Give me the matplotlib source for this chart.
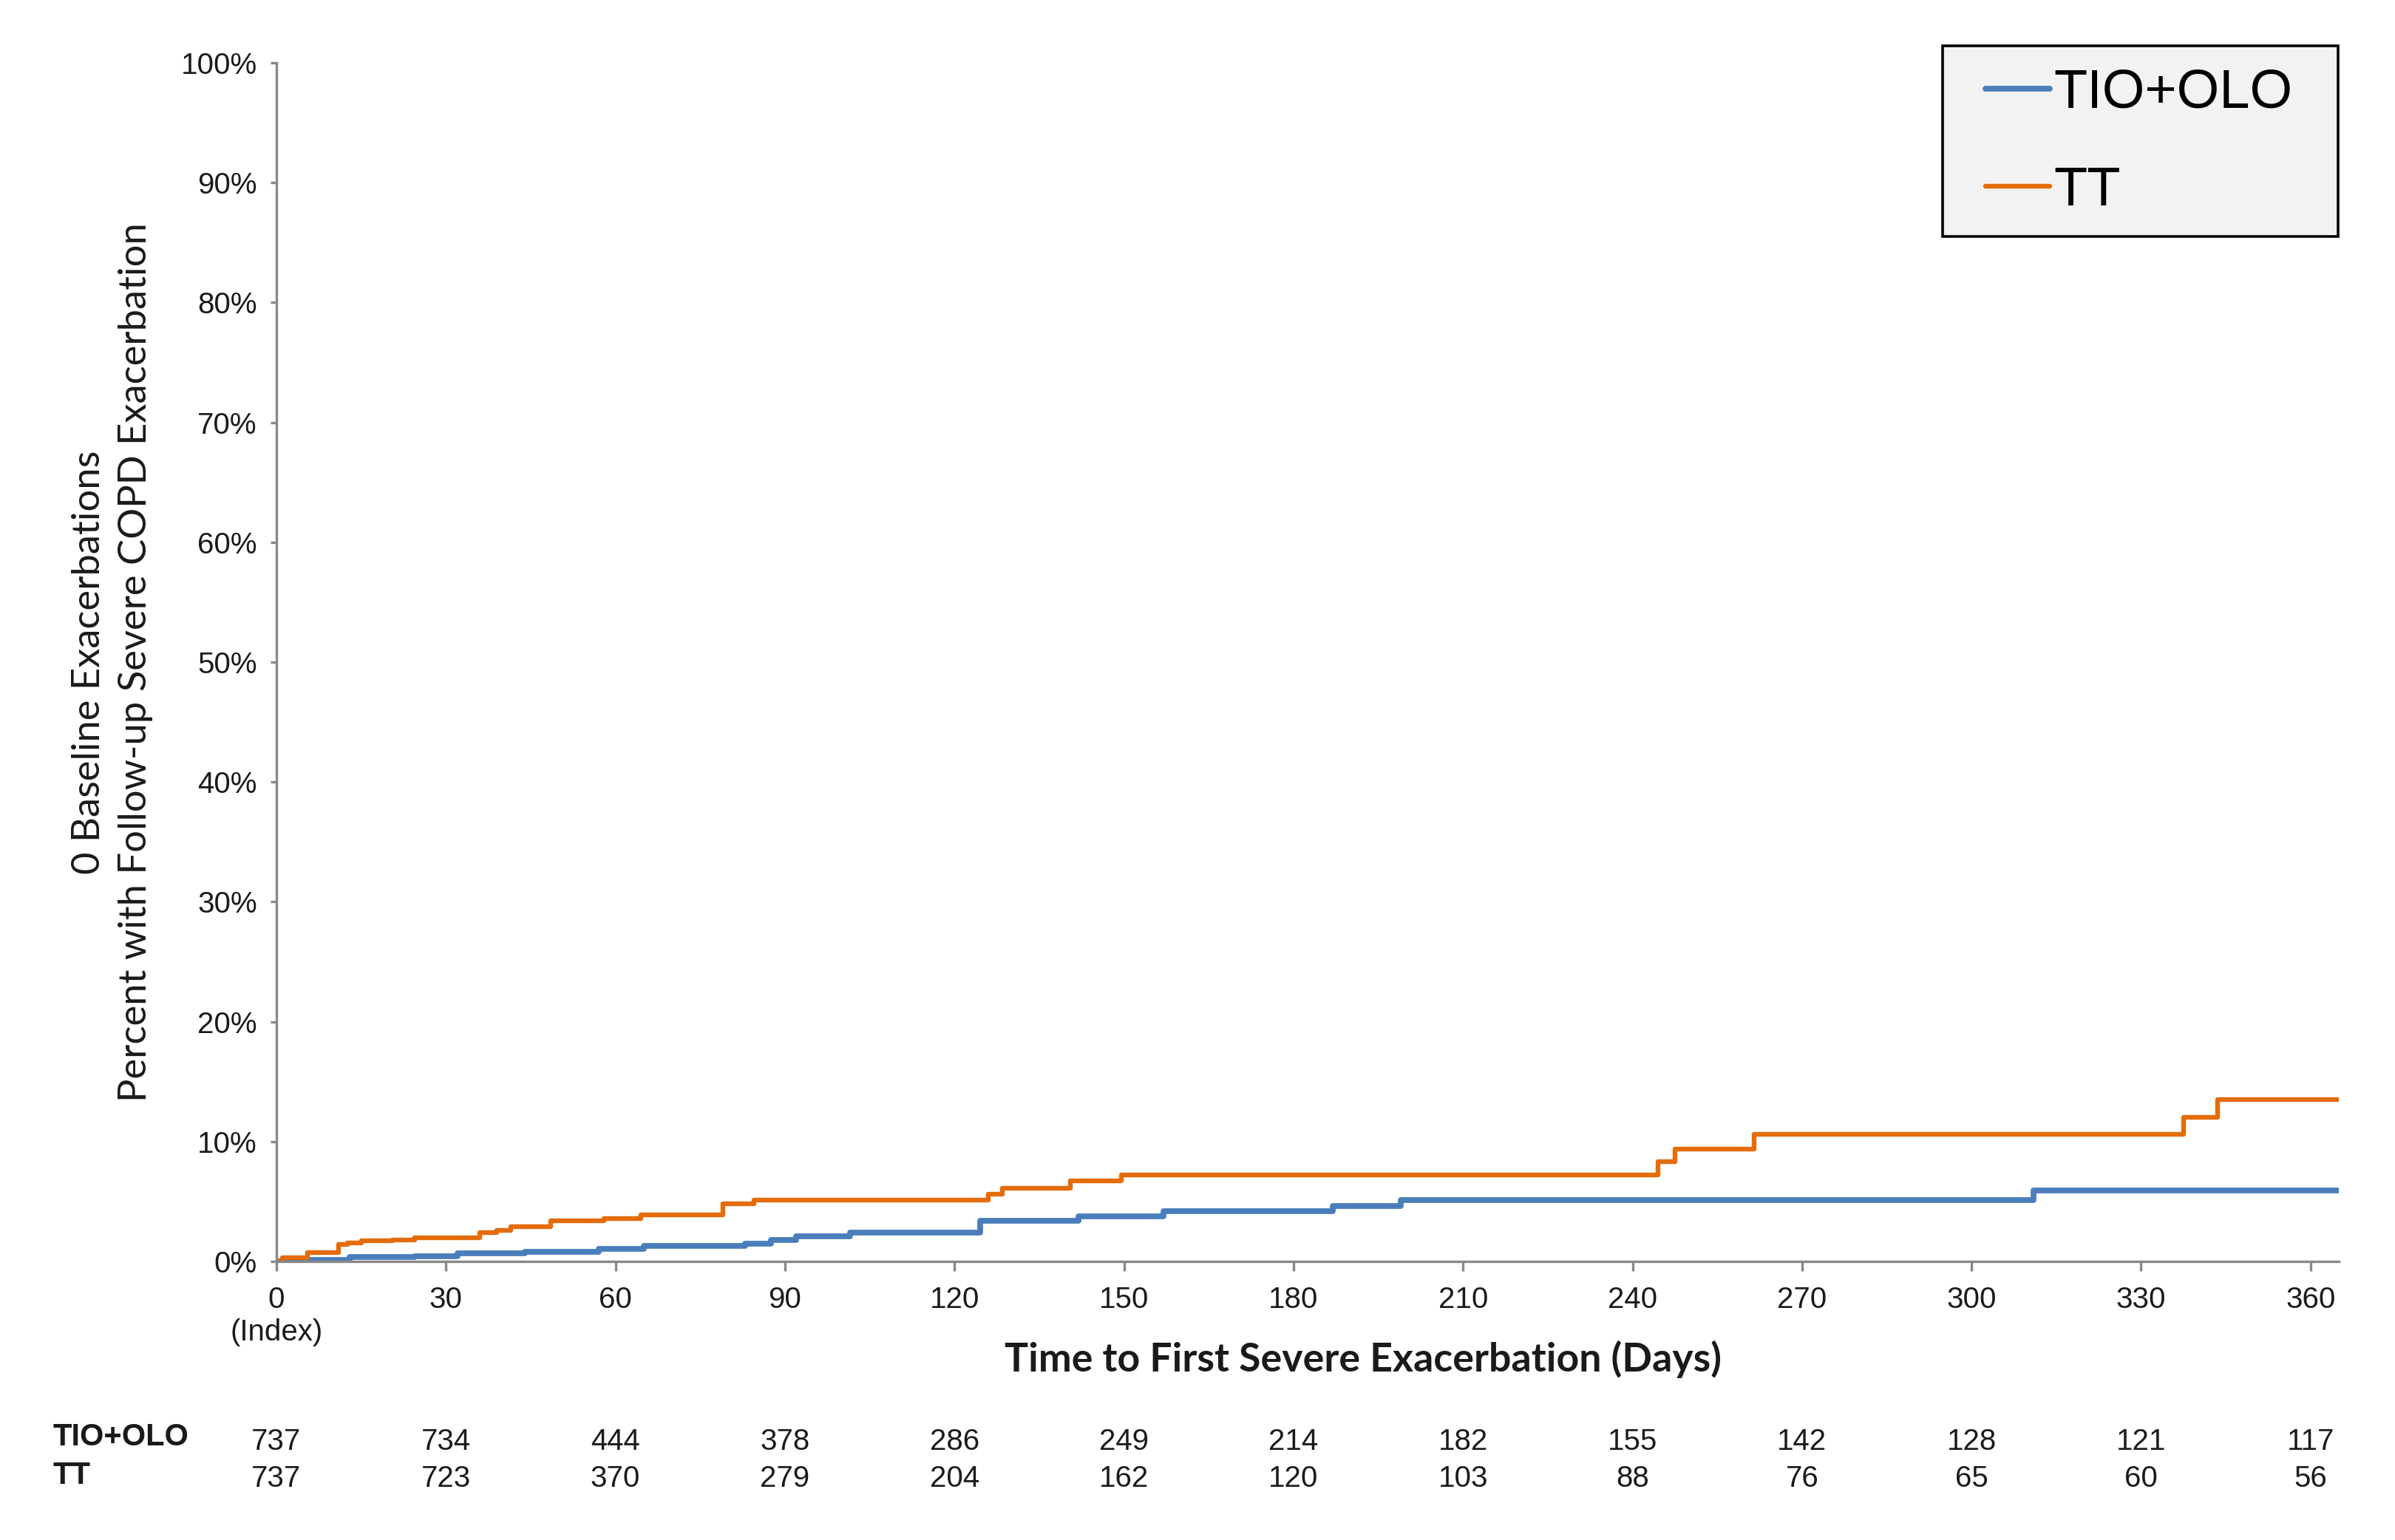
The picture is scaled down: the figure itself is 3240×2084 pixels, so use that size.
import matplotlib
matplotlib.use("Agg")
import matplotlib.pyplot as plt
from matplotlib.patches import Rectangle
from matplotlib.ticker import FuncFormatter

# Kaplan-Meier style cumulative incidence (percent)
tio_olo_days = [0, 5, 13, 24.5, 32, 44, 57, 65, 83, 87.5, 92, 101.5, 124.5, 142, 157, 187,
                199, 311, 365]
tio_olo_pct = [0, 0.1, 0.35, 0.45, 0.7, 0.8, 1.05, 1.3, 1.5, 1.8, 2.1, 2.4, 3.4, 3.75, 4.2,
               4.6, 5.1, 5.9, 5.9]

tt_days = [0, 1, 5.5, 11, 12.5, 15, 20.5, 24.5, 36, 39, 41.5, 48.5, 58, 64.5, 79, 84.5,
           126, 128.5, 140.5, 149.5, 244.5, 247.5, 261.5, 337.5, 343.5, 365]
tt_pct = [0, 0.3, 0.75, 1.4, 1.55, 1.7, 1.8, 1.95, 2.4, 2.6, 2.9, 3.4, 3.6, 3.9, 4.8, 5.1,
          5.6, 6.1, 6.7, 7.2, 8.3, 9.4, 10.6, 12.05, 13.5, 13.5]

# numbers at risk
risk_days = [0, 30, 60, 90, 120, 150, 180, 210, 240, 270, 300, 330, 360]
risk_tio_olo = [737, 734, 444, 378, 286, 249, 214, 182, 155, 142, 128, 121, 117]
risk_tt = [737, 723, 370, 279, 204, 162, 120, 103, 88, 76, 65, 60, 56]

x_ticks = risk_days
x_tick_labels = ["0\n(Index)"] + [str(d) for d in risk_days[1:]]
y_ticks = list(range(0, 101, 10))

BLUE = "#4a7ebb"
ORANGE = "#e46c0a"
GREY = "#888888"

W, H = 3240, 2084
fig = plt.figure(figsize=(W / 200, H / 200), dpi=200)
ax = fig.add_axes([374 / W, 1 - 1707 / H, 2790 / W, 1622 / H])

ax.step(tio_olo_days, tio_olo_pct, where="post", color=BLUE, lw=2.8, label="TIO+OLO",
        solid_capstyle="round")
ax.step(tt_days, tt_pct, where="post", color=ORANGE, lw=2.3, label="TT",
        solid_capstyle="round")

ax.set_xlim(0, 365)
ax.set_ylim(0, 100)
for s in ["top", "right"]:
    ax.spines[s].set_visible(False)
for s in ["left", "bottom"]:
    ax.spines[s].set_color(GREY)
    ax.spines[s].set_linewidth(1.2)

ax.set_yticks(y_ticks)
ax.yaxis.set_major_formatter(FuncFormatter(lambda v, p: f"{v:.0f}%"))
ax.set_xticks(x_ticks)
ax.set_xticklabels(x_tick_labels)
for lab in ax.get_xticklabels() + ax.get_yticklabels():
    lab.set_fontfamily("Liberation Sans")
    lab.set_fontsize(14.5)
    lab.set_color("#1a1a1a")
ax.tick_params(axis="y", length=3, width=1.2, color=GREY, pad=6.5)
ax.tick_params(axis="x", length=4.6, width=1.2, color=GREY, pad=7.2)

ax.set_xlabel("Time to First Severe Exacerbation (Days)", fontfamily="Lato",
              fontweight="bold", fontsize=19.3, color="#1a1a1a")
ax.xaxis.set_label_coords(0.527, -0.0814)
ax.xaxis.label.set_va("center")

ax.set_ylabel("0 Baseline Exacerbations\nPercent with Follow-up Severe COPD Exacerbation",
              fontfamily="Lato", fontsize=18.9, color="#1a1a1a", linespacing=1.4)
ax.yaxis.set_label_coords(-0.0796, 0.5)
ax.yaxis.label.set_va("center")

# numbers at risk table
tr = ax.get_xaxis_transform()
for d, a, b in zip(risk_days, risk_tio_olo, risk_tt):
    ax.text(d, -0.1505, str(a), transform=tr, ha="center", va="center",
            fontfamily="Liberation Sans", fontsize=14.5, color="#1a1a1a", clip_on=False)
    ax.text(d, -0.1815, str(b), transform=tr, ha="center", va="center",
            fontfamily="Liberation Sans", fontsize=14.5, color="#1a1a1a", clip_on=False)
fig.text(72 / W, 1 - 1945 / H, "TIO+OLO", ha="left", va="center",
         fontfamily="Liberation Sans", fontweight="bold", fontsize=15, color="#1a1a1a")
fig.text(72 / W, 1 - 1997 / H, "TT", ha="left", va="center",
         fontfamily="Liberation Sans", fontweight="bold", fontsize=15, color="#1a1a1a")

# legend with a separate grey box
box = Rectangle((2628 / W, 1 - 320 / H), 535 / W, 258 / H, transform=fig.transFigure,
                facecolor="#f2f2f2", edgecolor="black", lw=1.3, zorder=2)
fig.patches.append(box)
handles, labels = ax.get_legend_handles_labels()
fig.legend(handles, labels, loc="upper left", bbox_to_anchor=(2686 / W, 1 - 92 / H),
           frameon=False, borderpad=0, borderaxespad=0, handlelength=1.17,
           handletextpad=0.08, labelspacing=0.85,
           prop={"family": "Liberation Sans", "size": 26.7})

fig.savefig("out.png", dpi=200)
